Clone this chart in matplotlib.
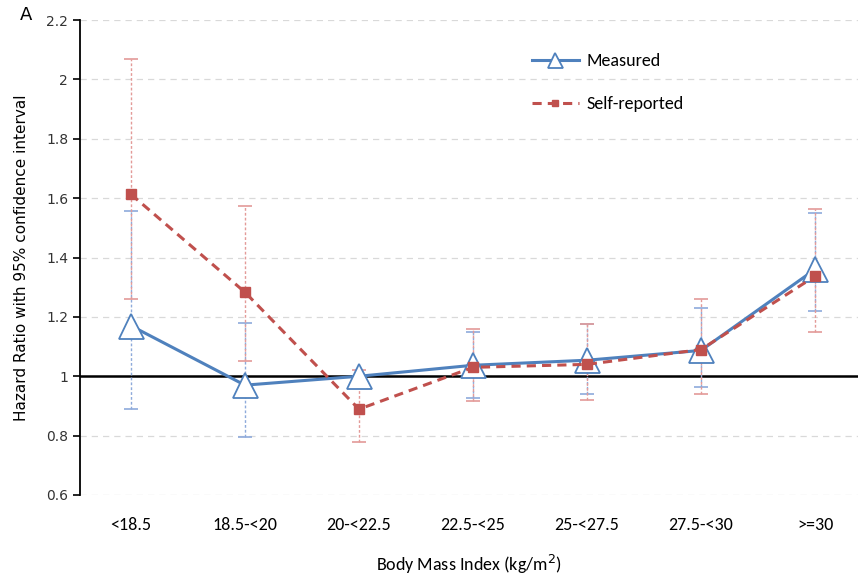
# Hazard ratio per kategori BMI, measured vs self-reported
import numpy as np
import matplotlib.pyplot as plt
from matplotlib import font_manager

# data kategori dan nilai
categories = ["<18.5", "18.5-<20", "20-<22.5", "22.5-<25", "25-<27.5", "27.5-<30", ">=30"]

measured = [1.17, 0.97, 1.00, 1.037, 1.054, 1.087, 1.36]
measured_low = [0.89, 0.795, 1.00, 0.926, 0.94, 0.963, 1.22]
measured_high = [1.556, 1.18, 1.00, 1.15, 1.175, 1.23, 1.55]

self_rep = [1.613, 1.283, 0.889, 1.03, 1.04, 1.09, 1.337]
self_low = [1.26, 1.05, 0.778, 0.916, 0.92, 0.94, 1.148]
self_high = [2.07, 1.572, 1.02, 1.158, 1.175, 1.26, 1.562]

yticks = [0.6, 0.8, 1, 1.2, 1.4, 1.6, 1.8, 2, 2.2]

# cari font sempit (mirip Calibri), kalau tidak ada pakai DejaVu
names = {f.name for f in font_manager.fontManager.ttflist}
narrow = "DejaVu Sans"
for cand in ["Carlito", "Liberation Sans Narrow", "Roboto Condensed", "PT Sans Narrow",
             "Archivo Narrow", "Open Sans Condensed"]:
    if cand in names:
        narrow = cand
        break
nsize = 13 if narrow != "DejaVu Sans" else 11

blue = "#4F81BD"
red = "#C0504D"

fig = plt.figure(figsize=(8.58, 5.79), dpi=100)
ax = fig.add_axes([80 / 858, 1 - 495 / 579, 1 - 80 / 858, (495 - 20) / 579])

x = np.arange(len(categories))

# grid putus-putus abu-abu
for t in yticks:
    ax.axhline(t, color="#D9D9D9", lw=0.9, ls=(0, (5, 4)), zorder=0)
ax.axhline(1, color="black", lw=1.8, zorder=1)

# error bar
m_err = [np.array(measured) - np.array(measured_low), np.array(measured_high) - np.array(measured)]
s_err = [np.array(self_rep) - np.array(self_low), np.array(self_high) - np.array(self_rep)]

eb1 = ax.errorbar(x, measured, yerr=m_err, fmt="none", ecolor="#8EAADB",
                  elinewidth=1.0, capsize=5, capthick=1.2, zorder=2)
eb1[2][0].set_linestyle((0, (2, 1.5)))
for c in eb1[1]:
    c.set_color(blue)

eb2 = ax.errorbar(x, self_rep, yerr=s_err, fmt="none", ecolor="#E39A98",
                  elinewidth=1.0, capsize=5, capthick=1.2, zorder=2)
eb2[2][0].set_linestyle((0, (2, 1.5)))
for c in eb2[1]:
    c.set_color(red)

# garis utama
ax.plot(x, measured, color=blue, lw=2.2, marker="^", markersize=18,
        markerfacecolor="white", markeredgecolor=blue, markeredgewidth=1.3,
        label="Measured", zorder=4)
ax.plot(x, self_rep, color=red, lw=2.2, ls=(0, (3, 2)), marker="s", markersize=7,
        markerfacecolor=red, markeredgecolor=red, label="Self-reported", zorder=5)

ax.set_xlim(-0.447, 6.377)
ax.set_ylim(0.6, 2.2)
ax.set_yticks(yticks)
ax.set_yticklabels(["0.6", "0.8", "1", "1.2", "1.4", "1.6", "1.8", "2", "2.2"],
                   fontsize=10, color="#333333")
ax.set_xticks(x)
ax.set_xticklabels(categories, fontsize=nsize, family=narrow)
ax.tick_params(axis="x", length=0, pad=16)
ax.tick_params(axis="y", length=5, width=1.2, direction="out")

for s in ["top", "right", "bottom"]:
    ax.spines[s].set_visible(False)
ax.spines["left"].set_linewidth(1.3)

ax.set_xlabel("Body Mass Index (kg/m$^2$)", fontsize=nsize, family=narrow, labelpad=14)
ax.set_ylabel("Hazard Ratio with 95% confidence interval", fontsize=11, labelpad=12)

leg = ax.legend(loc="upper left", bbox_to_anchor=(0.56, 0.965), frameon=False,
                labelspacing=1.5, handlelength=2.6, handletextpad=0.4,
                prop={"family": narrow, "size": nsize})
for h in leg.legend_handles:
    h.set_markersize(h.get_markersize() * 0.6)

fig.text(20 / 858, 1 - 15 / 579, "A", fontsize=13, va="center", ha="left")

plt.savefig("out.png", dpi=100)
